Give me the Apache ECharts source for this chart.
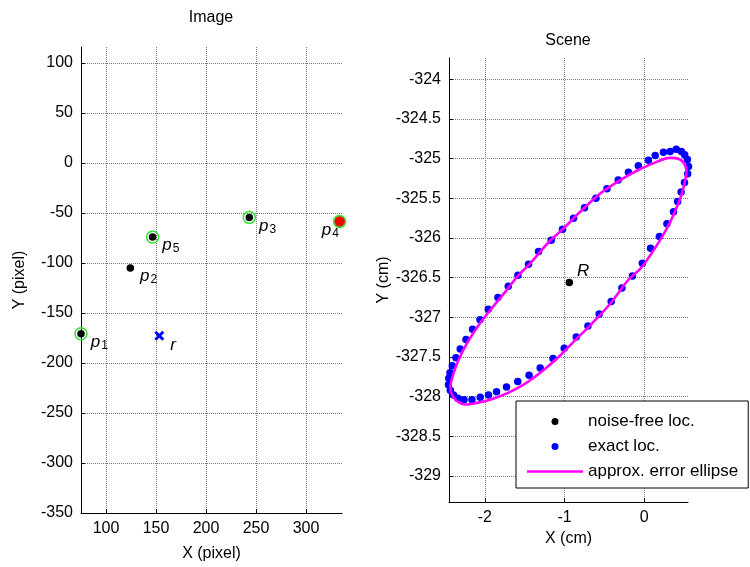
<!DOCTYPE html>
<html>
<head>
<meta charset="utf-8">
<script src="https://cdn.jsdelivr.net/npm/echarts@6/dist/echarts.min.js"></script>
<style>
html, body { margin: 0; padding: 0; background: #fff; }
#chart { width: 750px; height: 567px; }
</style>
</head>
<body>
<div id="chart"></div>
<script>
// ---- image plane (pixel) ----
var imgPts = [[75, -170.7], [124.3, -105], [243.3, -54.4], [333.6, -58.4], [146.6, -74]];
var imgNames = ['1', '2', '3', '4', '5'];
var ringPts = [[75, -170.7], [243.3, -54.4], [333.6, -58.4], [146.6, -74]];
var redPts = [[333.6, -58.4]];
var refPt = [[153.3, -172.7]];

// ---- scene (cm) ----
var scenePt = [[-0.94, -326.56]];
var exactX = [0.556, 0.546, 0.506, 0.464, 0.420, 0.368, 0.285, 0.191, 0.080, -0.023, -0.147, -0.280, -0.414,
    -0.565, -0.706, -0.853, -1.004, -1.144, -1.305, -1.445, -1.587, -1.728, -1.853, -1.954, -2.058, -2.162,
    -2.262, -2.340, -2.394, -2.434, -2.457, -2.453, -2.438, -2.409, -2.363, -2.309, -2.237, -2.154, -2.061,
    -1.957, -1.836, -1.706, -1.585, -1.452, -1.326, -1.167, -1.025, -0.887, -0.749, -0.606, -0.467, -0.326,
    -0.198, -0.073, 0.053, 0.138, 0.242, 0.326, 0.402, 0.467, 0.508, 0.542];
var exactY = [-325.10, -325.19, -325.30, -325.42, -325.54, -325.67, -325.82, -325.98, -326.13, -326.32, -326.48,
    -326.63, -326.80, -326.96, -327.11, -327.25, -327.39, -327.52, -327.64, -327.73, -327.81, -327.88, -327.94,
    -327.98, -328.01, -328.04, -328.04, -328.02, -327.98, -327.92, -327.85, -327.77, -327.70, -327.61, -327.51,
    -327.40, -327.28, -327.15, -327.03, -326.90, -326.75, -326.61, -326.47, -326.33, -326.17, -326.03, -325.89,
    -325.75, -325.62, -325.50, -325.38, -325.27, -325.17, -325.09, -325.02, -324.96, -324.92, -324.91, -324.88,
    -324.91, -324.95, -325.01];
var ellX = [0.159, 0.326, 0.430, 0.502, 0.531, 0.514, 0.473, 0.410, 0.326, 0.222, 0.075, -0.050, -0.201, -0.427,
    -0.656, -0.887, -1.095, -1.305, -1.514, -1.723, -1.932, -2.099, -2.246, -2.330, -2.400, -2.434, -2.400,
    -2.330, -2.225, -2.079, -1.932, -1.744, -1.587, -1.430, -1.205, -1.033, -0.803, -0.552, -0.301, -0.050, 0.159];
var ellY = [-325.04, -324.99, -325.00, -325.06, -325.15, -325.27, -325.44, -325.61, -325.80, -325.99, -326.22,
    -326.39, -326.53, -326.83, -327.08, -327.31, -327.52, -327.70, -327.85, -327.96, -328.04, -328.08, -328.10,
    -328.07, -328.00, -327.89, -327.73, -327.54, -327.33, -327.10, -326.91, -326.68, -326.48, -326.32, -326.06,
    -325.90, -325.67, -325.44, -325.27, -325.13, -325.04];

var FONT = '"Liberation Sans", Arial, sans-serif';

function zip(xs, ys) {
    return xs.map(function (x, i) { return [x, ys[i]]; });
}

var gridStyle = {show: true, showMinLine: false, showMaxLine: false,
    lineStyle: {color: '#7a7a7a', type: 'dotted', width: 1}};
var txt = {color: '#000', fontSize: 16, fontFamily: FONT};

function axis(gi, o) {
    var a = {
        type: 'value', gridIndex: gi,
        axisLine: {show: true, onZero: false, lineStyle: {color: '#000', width: 1}},
        axisTick: {show: true, inside: true, length: 4, lineStyle: {color: '#000'}},
        splitLine: gridStyle,
        axisLabel: {color: '#000', fontSize: 16, fontFamily: FONT, margin: 8,
            showMinLabel: false, showMaxLabel: false},
        nameLocation: 'middle',
        nameTextStyle: txt
    };
    for (var k in o) { a[k] = o[k]; }
    return a;
}

var subRich = {
    p: {fontStyle: 'italic', fontSize: 17, fontFamily: FONT, color: '#000', lineHeight: 18, verticalAlign: 'top'},
    s: {fontSize: 12, fontFamily: FONT, color: '#000', lineHeight: 14, padding: [8, 0, 0, 1], verticalAlign: 'bottom'}
};

var chart = echarts.init(document.getElementById('chart'));
chart.setOption({
    backgroundColor: '#fff',
    animation: false,
    title: [
        {text: 'Image', left: 211, top: 10, textAlign: 'center', padding: 0,
            textStyle: {fontSize: 16, fontWeight: 'normal', color: '#000', fontFamily: FONT}},
        {text: 'Scene', left: 568, top: 33, textAlign: 'center', padding: 0,
            textStyle: {fontSize: 16, fontWeight: 'normal', color: '#000', fontFamily: FONT}}
    ],
    grid: [
        {left: 81, top: 47, width: 261, height: 466},
        {left: 449, top: 58, width: 239, height: 444}
    ],
    xAxis: [
        axis(0, {min: 75, max: 336, splitNumber: 5, name: 'X (pixel)', nameGap: 33}),
        axis(1, {min: -2.45, max: 0.55, splitNumber: 3, name: 'X (cm)', nameGap: 27})
    ],
    yAxis: [
        axis(0, {min: -350, max: 116, interval: 50, name: 'Y (pixel)', nameGap: 53,
            axisLabel: {color: '#000', fontSize: 16, fontFamily: FONT, margin: 8, showMaxLabel: false}}),
        axis(1, {min: -329.33, max: -323.73, splitNumber: 11, name: 'Y (cm)', nameGap: 45})
    ],
    legend: {
        data: ['noise-free loc.', 'exact loc.',
            {name: 'approx. error ellipse', icon: 'path://M0,0L56,0L56,2.6L0,2.6Z'}],
        orient: 'vertical', left: 516, top: 401,
        padding: [12, 10, 8, 11], itemGap: 8, itemWidth: 56, itemHeight: 7,
        backgroundColor: '#fff', borderColor: '#000', borderWidth: 1, borderRadius: 0,
        textStyle: {fontSize: 17, color: '#000', fontFamily: FONT, lineHeight: 17},
        selectedMode: false
    },
    series: [
        {
            name: 'img-ring', type: 'scatter', xAxisIndex: 0, yAxisIndex: 0, clip: false, z: 5,
            symbol: 'circle', symbolSize: 12, data: ringPts,
            itemStyle: {color: 'rgba(0,0,0,0)', borderColor: '#33e033', borderWidth: 1.5, opacity: 1}
        },
        {
            name: 'img-nf', type: 'scatter', xAxisIndex: 0, yAxisIndex: 0, clip: false, z: 3,
            symbolSize: 7.5, itemStyle: {color: '#000', opacity: 1},
            data: imgPts.map(function (p, i) {
                var d = {value: p, name: imgNames[i]};
                if (imgNames[i] === '4') {
                    d.label = {position: 'left', distance: 0, offset: [3, 9]};
                }
                return d;
            }),
            label: {
                show: true, position: 'right', distance: 6, offset: [0, 9],
                formatter: function (p) { return '{p|p}{s|' + p.name + '}'; },
                rich: subRich
            }
        },
        {
            name: 'img-red', type: 'scatter', xAxisIndex: 0, yAxisIndex: 0, clip: false, z: 4,
            symbolSize: 11, data: redPts, itemStyle: {color: '#ff0000', opacity: 1}
        },
        {
            name: 'img-r', type: 'scatter', xAxisIndex: 0, yAxisIndex: 0, clip: false, z: 4,
            symbol: 'path://M0,2L2,0L5,3L8,0L10,2L7,5L10,8L8,10L5,7L2,10L0,8L3,5Z',
            symbolSize: 10, data: refPt, itemStyle: {color: '#0000ff', opacity: 1},
            label: {show: true, position: 'right', distance: 6, offset: [0, 10],
                formatter: 'r',
                fontStyle: 'italic', fontSize: 17, fontFamily: FONT, color: '#000'}
        },
        {
            name: 'noise-free loc.', type: 'scatter', xAxisIndex: 1, yAxisIndex: 1, clip: false, z: 4,
            symbolSize: 7.5, data: scenePt, itemStyle: {color: '#000', opacity: 1},
            label: {show: true, position: 'right', distance: 4, offset: [0, -11],
                formatter: 'R',
                fontStyle: 'italic', fontSize: 17, fontFamily: FONT, color: '#000'}
        },
        {
            name: 'exact loc.', type: 'scatter', xAxisIndex: 1, yAxisIndex: 1, clip: false, z: 3,
            symbolSize: 7.5, data: zip(exactX, exactY), itemStyle: {color: '#0000ff', opacity: 1}
        },
        {
            name: 'approx. error ellipse', type: 'line', xAxisIndex: 1, yAxisIndex: 1, clip: false, z: 5,
            symbol: 'none', smooth: 0.35, data: zip(ellX, ellY),
            lineStyle: {color: '#ff00ff', width: 2.6}, itemStyle: {color: '#ff00ff'}
        }
    ]
});
</script>
</body>
</html>
